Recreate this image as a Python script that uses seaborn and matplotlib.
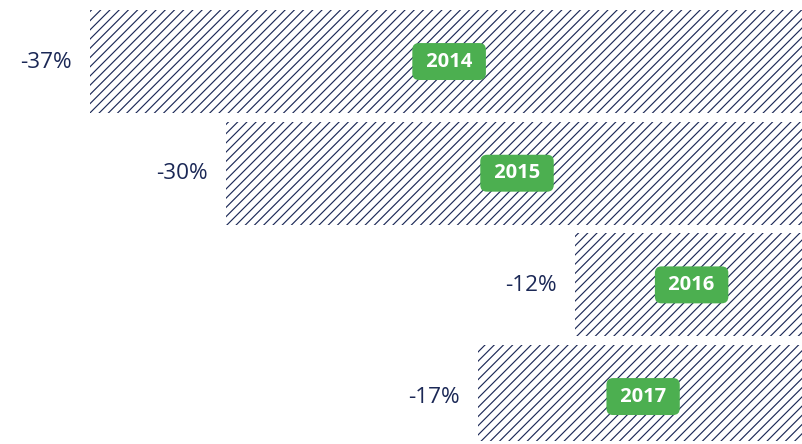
import matplotlib
matplotlib.use("Agg")
import matplotlib.pyplot as plt
import seaborn as sns
import pandas as pd

# chart data
years = ["2014", "2015", "2016", "2017"]
changes = [-37, -30, -12, -17]
value_labels = ["-37%", "-30%", "-12%", "-17%"]

navy = "#1b2856"
green = "#4caf50"

sns.set_theme(style="white")
plt.rcParams["font.family"] = ["Open Sans", "DejaVu Sans"]
plt.rcParams["hatch.linewidth"] = 1.0
plt.rcParams["hatch.color"] = navy

df = pd.DataFrame({"year": years, "change": changes})

dpi = 83
fig = plt.figure(figsize=(802 / dpi, 444 / dpi), dpi=dpi)
ax = fig.add_axes([0, 3 / 444, 1, 441 / 444])

# hatched bars, drawn from 0 leftwards
sns.barplot(data=df, x="change", y="year", orient="h", color="white",
            edgecolor=navy, linewidth=0, hatch="///", width=0.922,
            saturation=1, ax=ax)

ax.set_xlim(-41.65, -0.31)
ax.set_ylim(3.398, -0.551)
ax.axis("off")

# value labels left of bars, year badges in the middle
for i, (v, lab, yr) in enumerate(zip(changes, value_labels, years)):
    ax.annotate(lab, xy=(v, i), xytext=(-18, -0.5), textcoords="offset pixels",
                ha="right", va="center", fontsize=19.5, color=navy)
    ax.text(v / 2, i, " " + yr + " ", ha="center", va="center",
            fontsize=17.5, fontweight="bold", color="white",
            bbox=dict(boxstyle="round,pad=0.42,rounding_size=0.33",
                      facecolor=green, edgecolor="none"))

fig.savefig("out.png", dpi=dpi)
